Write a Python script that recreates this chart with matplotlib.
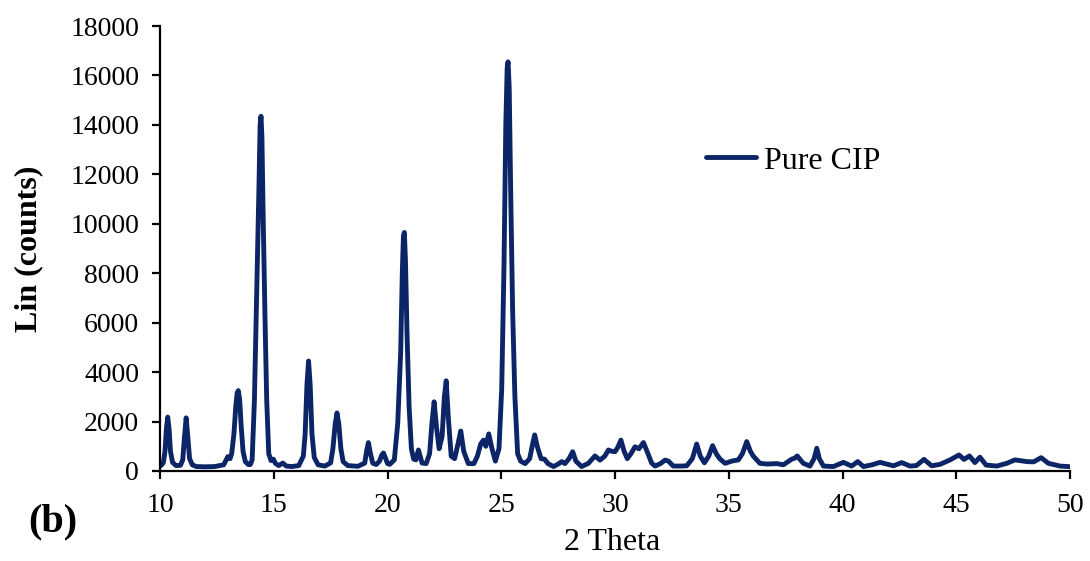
import matplotlib
matplotlib.use("Agg")
import matplotlib.pyplot as plt

two_theta = [10.00, 10.08, 10.15, 10.22, 10.28, 10.34, 10.40, 10.46, 10.55, 10.70, 10.90, 11.00,
             11.07, 11.15, 11.23, 11.30, 11.42, 11.60, 12.00, 12.40, 12.80, 12.98, 13.08, 13.15,
             13.25, 13.33, 13.39, 13.44, 13.50, 13.57, 13.65, 13.75, 13.88, 13.97, 14.05, 14.15,
             14.25, 14.35, 14.40, 14.44, 14.48, 14.54, 14.62, 14.69, 14.78, 14.88, 14.98, 15.08,
             15.22, 15.40, 15.55, 15.80, 16.10, 16.30, 16.38, 16.46, 16.53, 16.60, 16.68, 16.78,
             16.95, 17.25, 17.50, 17.60, 17.70, 17.78, 17.86, 17.95, 18.05, 18.25, 18.70, 19.00,
             19.08, 19.16, 19.24, 19.35, 19.50, 19.65, 19.75, 19.82, 19.90, 20.00, 20.10, 20.30,
             20.45, 20.58, 20.65, 20.70, 20.74, 20.79, 20.86, 20.95, 21.05, 21.15, 21.25, 21.36,
             21.52, 21.70, 21.85, 21.95, 22.05, 22.15, 22.27, 22.40, 22.50, 22.58, 22.67, 22.80,
             22.95, 23.10, 23.22, 23.35, 23.55, 23.80, 23.95, 24.10, 24.22, 24.32, 24.45, 24.58,
             24.74, 24.90, 25.02, 25.12, 25.20, 25.26, 25.30, 25.35, 25.42, 25.50, 25.60, 25.72,
             25.85, 26.05, 26.25, 26.38, 26.47, 26.58, 26.75, 26.90, 27.05, 27.30, 27.50, 27.66,
             27.80, 27.98, 28.14, 28.28, 28.53, 28.83, 29.12, 29.34, 29.55, 29.71, 29.85, 30.00,
             30.12, 30.26, 30.40, 30.54, 30.70, 30.88, 31.05, 31.25, 31.45, 31.61, 31.76, 32.00,
             32.20, 32.35, 32.56, 32.90, 33.15, 33.40, 33.59, 33.75, 33.93, 34.12, 34.29, 34.45,
             34.60, 34.84, 35.13, 35.42, 35.60, 35.79, 35.95, 36.08, 36.37, 36.70, 37.11, 37.40,
             37.77, 37.90, 38.01, 38.15, 38.28, 38.57, 38.75, 38.87, 38.98, 39.16, 39.60, 40.04,
             40.40, 40.67, 40.92, 41.30, 41.65, 42.24, 42.60, 42.97, 43.25, 43.58, 43.92, 44.29,
             44.73, 45.12, 45.34, 45.58, 45.82, 46.04, 46.31, 46.78, 47.22, 47.58, 48.10, 48.40,
             48.73, 49.05, 49.56, 50.00]

counts = [200, 250, 350, 800, 1700, 2180, 1700, 800, 350, 220, 230, 450,
          1300, 2150, 1300, 500, 250, 180, 170, 180, 250, 580, 500, 700,
          1500, 2600, 3150, 3250, 2900, 1800, 800, 380, 260, 260, 450, 2870,
          7175, 11500, 14000, 14350, 13500, 10000, 6000, 2870, 700, 420, 480, 300,
          220, 320, 200, 180, 220, 600, 1500, 3500, 4450, 3500, 1500, 550,
          250, 200, 330, 900, 1900, 2350, 1900, 900, 380, 220, 190, 320,
          800, 1150, 750, 320, 260, 400, 650, 730, 550, 300, 270, 450,
          1930, 4825, 8000, 9500, 9650, 8500, 5500, 2600, 900, 480, 450, 850,
          320, 300, 700, 1900, 2800, 1800, 900, 1400, 3000, 3650, 2200, 600,
          500, 1100, 1620, 800, 300, 300, 600, 1100, 1250, 1000, 1500, 950,
          400, 900, 3310, 8275, 14000, 16300, 16550, 15500, 11000, 6500, 3000, 700,
          400, 300, 500, 1100, 1460, 1000, 500, 480, 300, 180, 280, 380,
          300, 500, 780, 400, 180, 310, 610, 440, 600, 850, 800, 780,
          950, 1250, 800, 500, 700, 980, 900, 1150, 700, 320, 200, 300,
          440, 400, 200, 200, 210, 500, 1090, 600, 330, 600, 1025, 700,
          500, 310, 400, 450, 700, 1190, 800, 600, 310, 280, 300, 250,
          480, 520, 610, 450, 310, 200, 500, 920, 500, 200, 180, 350,
          200, 380, 180, 250, 350, 210, 340, 200, 220, 470, 210, 270,
          450, 650, 470, 610, 340, 560, 240, 200, 310, 450, 380, 370,
          540, 310, 200, 175]

series_name = "Pure CIP"
x_ticks = [10, 15, 20, 25, 30, 35, 40, 45, 50]
y_ticks = [0, 2000, 4000, 6000, 8000, 10000, 12000, 14000, 16000, 18000]

plt.rcParams['font.family'] = ['Liberation Serif', 'DejaVu Serif']

fig = plt.figure(figsize=(10.9, 5.61), dpi=100)
ax = fig.add_axes([160/1090, 1-471/561, 910/1090, 445/561])

ax.plot(two_theta, counts, color='#0b2566', lw=3.5, solid_joinstyle='round',
        solid_capstyle='round', label=series_name)

ax.set_xlim(10, 50)
ax.set_ylim(0, 18000)
ax.set_xticks(x_ticks)
ax.set_yticks(y_ticks)
ax.tick_params(axis='both', direction='out', length=6, width=1.6, labelsize=20)
ax.tick_params(axis='x', pad=10)
ax.tick_params(axis='y', pad=9)
for s in ['top', 'right']:
    ax.spines[s].set_visible(False)
for s in ['left', 'bottom']:
    ax.spines[s].set_linewidth(1.6)

ax.set_xlabel('2 Theta', fontsize=23)
ax.xaxis.set_label_coords(0.497, -0.128)
ax.set_ylabel('Lin (counts)', fontsize=23, fontweight='bold')
ax.yaxis.set_label_coords(-0.128, 0.5)

ax.legend(loc='center left', bbox_to_anchor=(0.5685, 0.697), frameon=False, fontsize=23,
          handlelength=1.57, handletextpad=0.25, borderpad=0.4)

fig.text(53/1090, 1-522/561, '(b)', fontsize=29, fontweight='bold', ha='center', va='center')

fig.savefig('out.png', dpi=100)
